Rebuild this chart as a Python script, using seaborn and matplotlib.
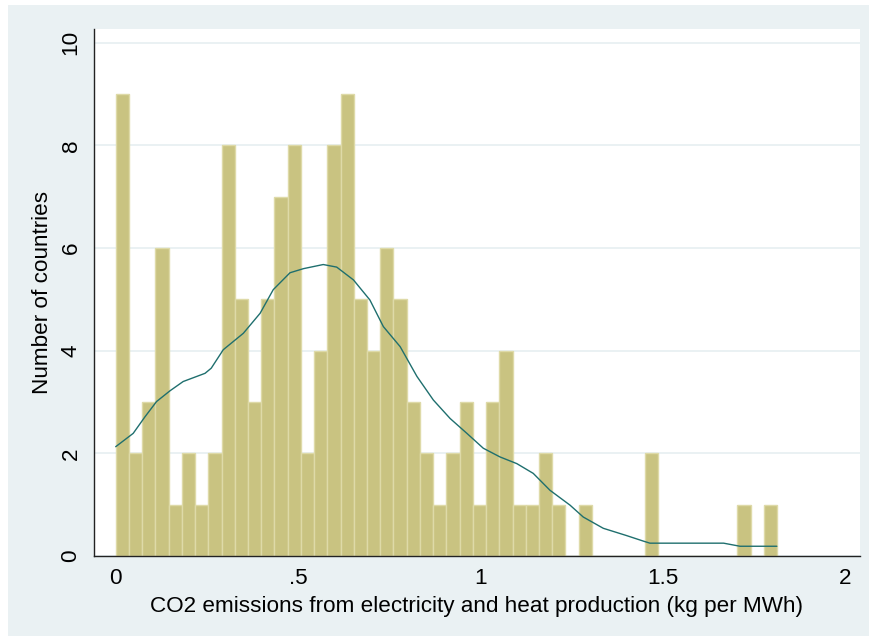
import numpy as np
import pandas as pd
import matplotlib
matplotlib.use("Agg")
import matplotlib.pyplot as plt
from matplotlib.patches import Rectangle
import seaborn as sns

# Histogram: number of countries per bin of CO2 intensity (kg per MWh)
bin_start = 0.0
bin_end = 1.8137
n_bins = 50
counts = [9, 2, 3, 6, 1, 2, 1, 2, 8, 5,
          3, 5, 7, 8, 2, 4, 8, 9, 5, 4,
          6, 5, 3, 2, 1, 2, 3, 1, 3, 4,
          1, 1, 2, 1, 0, 1, 0, 0, 0, 0,
          2, 0, 0, 0, 0, 0, 0, 1, 0, 1]

# Kernel density estimate, scaled to frequency
kde_x = [0.000, 0.048, 0.080, 0.112, 0.149, 0.185, 0.245, 0.262, 0.295, 0.350,
         0.396, 0.432, 0.478, 0.515, 0.569, 0.606, 0.652, 0.697, 0.734, 0.780,
         0.826, 0.871, 0.917, 0.963, 1.008, 1.054, 1.100, 1.145, 1.191, 1.246,
         1.282, 1.337, 1.400, 1.447, 1.465, 1.667, 1.712, 1.813]
kde_y = [2.13, 2.39, 2.71, 3.01, 3.22, 3.40, 3.56, 3.66, 4.02, 4.34,
         4.73, 5.19, 5.52, 5.60, 5.68, 5.63, 5.38, 4.99, 4.47, 4.08,
         3.50, 3.04, 2.68, 2.39, 2.10, 1.93, 1.80, 1.61, 1.28, 0.99,
         0.76, 0.54, 0.40, 0.29, 0.25, 0.25, 0.19, 0.19]

x_ticks = [0, 0.5, 1, 1.5, 2]
x_tick_labels = ["0", ".5", "1", "1.5", "2"]
y_ticks = [0, 2, 4, 6, 8, 10]
x_title = "CO2 emissions from electricity and heat production (kg per MWh)"
y_title = "Number of countries"

sns.set_style("white")
plt.rcParams["font.family"] = ["Liberation Sans", "DejaVu Sans"]

W, H = 869, 636
fig = plt.figure(figsize=(W / 100, H / 100), dpi=100)
fig.patch.set_facecolor("white")
bg = "#eaf1f3"
fig.patches.append(Rectangle((8 / W, 0), 1 - 8 / W, 1 - 5 / H,
                             transform=fig.transFigure, facecolor=bg,
                             edgecolor="none", zorder=-10))

left, right, top, bottom = 94, 860, 29, 556
ax = fig.add_axes([left / W, 1 - bottom / H, (right - left) / W, (bottom - top) / H])
ax.set_zorder(1)
ax.set_facecolor("white")

width = (bin_end - bin_start) / n_bins
centers = bin_start + width * (np.arange(n_bins) + 0.5)
hist_df = pd.DataFrame({"value": centers, "n": counts})

sns.histplot(data=hist_df, x="value", weights="n", bins=n_bins,
             binrange=(bin_start, bin_end), ax=ax,
             color="#c9c381", alpha=1.0, edgecolor="#dedaa8", linewidth=1.0,
             zorder=2)
kde_df = pd.DataFrame({"value": kde_x, "density": kde_y})
sns.lineplot(data=kde_df, x="value", y="density", ax=ax, color="#1f6f6e",
             linewidth=1.0, zorder=3)

ax.set_xlim(-0.0595, 2.041)
ax.set_ylim(0, 10.27)
ax.set_xticks(x_ticks)
ax.set_xticklabels(x_tick_labels)
ax.set_yticks(y_ticks)
ax.set_yticklabels([str(v) for v in y_ticks], rotation=90, va="center")

ax.yaxis.grid(True, color="#e6eff1", linewidth=1.2, zorder=0)
ax.set_axisbelow(True)

for side in ["top", "right"]:
    ax.spines[side].set_visible(False)
for side in ["left", "bottom"]:
    ax.spines[side].set_color("#222222")
    ax.spines[side].set_linewidth(1.0)

fs = 16.2
ax.tick_params(axis="both", direction="out", length=5, width=1.0,
               color="#222222", labelsize=fs, labelcolor="black")
ax.tick_params(axis="y", pad=4.0)
ax.tick_params(axis="x", pad=3.5)

ax.set_xlabel(x_title, fontsize=fs, color="black")
ax.set_ylabel(y_title, fontsize=fs, color="black")
ax.xaxis.set_label_coords(0.5, -0.0949)
ax.xaxis.label.set_va("center")
ax.yaxis.set_label_coords((43 - left) / (right - left), 0.5)
ax.yaxis.label.set_va("center")

fig.savefig("out.png", dpi=100, facecolor=fig.get_facecolor())
